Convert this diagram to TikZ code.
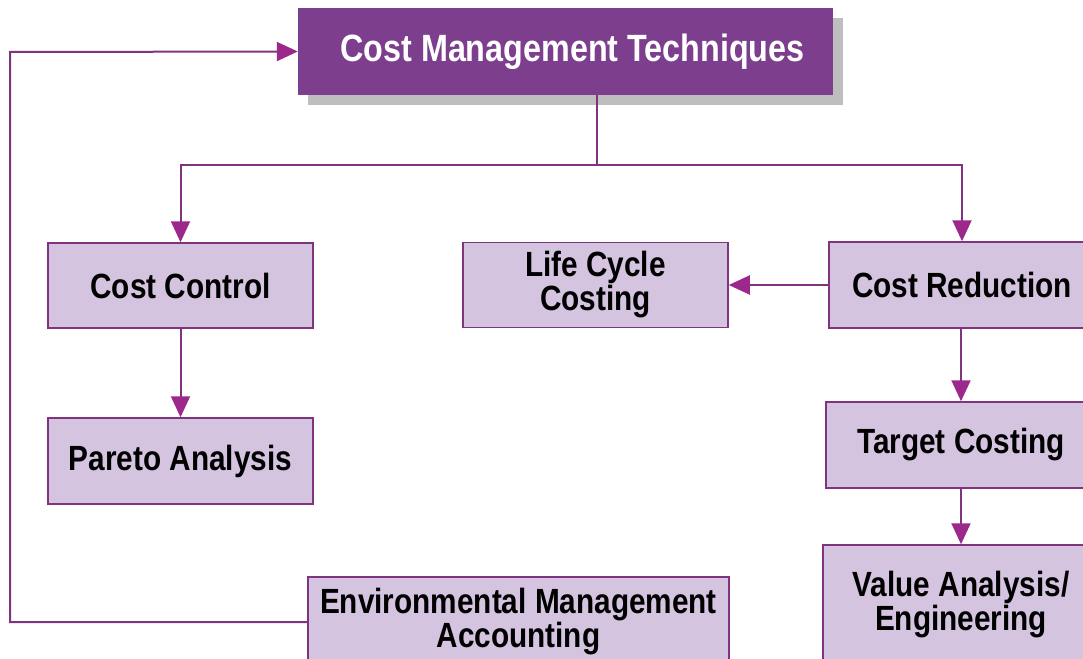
\documentclass[tikz,border=0pt]{standalone}
\usepackage{fontspec}
\setmainfont{Liberation Sans}[FakeStretch=0.85]
\usetikzlibrary{arrows.meta,shadows}
\definecolor{plum}{RGB}{125,63,141}
\definecolor{lilac}{RGB}{213,196,224}
\definecolor{plumline}{RGB}{128,52,128}
\definecolor{tipmag}{RGB}{156,40,140}
\definecolor{shade}{RGB}{190,190,190}
\tikzset{
  techbox/.style={draw=plumline, line width=1.5pt, fill=lilac, inner sep=0pt, align=center,
    font=\fontsize{35}{34}\selectfont\bfseries},
  flow/.style={draw=plumline, line width=2pt},
  flowarrow/.style={flow, -{Triangle[width=19pt,length=21pt,color=tipmag]}},
}

\begin{document}
\begin{tikzpicture}[x=1pt,y=-1pt]
\fill[white] (0,0) rectangle (1083,658);
\useasboundingbox (0,0) rectangle (1083,658);
\clip (0,0) rectangle (1083,658);

\node[fill=plum, minimum width=535pt, minimum height=87pt, inner sep=0pt, text=white,
  font=\fontsize{38}{40}\selectfont\bfseries,
  drop shadow={shadow xshift=10pt, shadow yshift=-10pt, fill=shade, opacity=1}]
  (top) at (565.5,51.5) {\hspace*{14pt}Cost Management Techniques};

\node[techbox, minimum width=265pt, minimum height=85pt] (costctrl) at (180.5,285.5) {Cost Control};
\node[techbox, minimum width=265pt, minimum height=86pt] (pareto) at (180.5,461) {Pareto Analysis};
\node[techbox, minimum width=265pt, minimum height=85pt] (lcc) at (595.5,285) {Life Cycle\\Costing};
\node[techbox, minimum width=266pt, minimum height=86pt] (costred) at (962,285) {Cost Reduction};
\node[techbox, minimum width=270pt, minimum height=86pt] (target) at (961,445) {Target Costing};
\node[techbox, minimum width=276pt, minimum height=120pt] (value) at (961,605) {Value Analysis/\\Engineering};
\node[techbox, minimum width=421pt, minimum height=90pt] (env) at (518.5,622) {Environmental Management\\Accounting};

\coordinate (fork) at (597,165);
\coordinate (loop) at (10,52);

\draw[flow] (fork |- top.south) -- (fork);
\draw[flowarrow] (fork) -| (costctrl.north);
\draw[flowarrow] (fork) -| (costred.north);
\draw[flowarrow] (costctrl.south) -- (pareto.north);
\draw[flowarrow] (costred.west) -- (costred.west -| lcc.east);
\draw[flowarrow] (target.north |- costred.south) -- (target.north);
\draw[flowarrow] (target.south) -- (value.north);
\draw[flowarrow] (env.west) -| (loop) -- (top.west);
\end{tikzpicture}
\end{document}
